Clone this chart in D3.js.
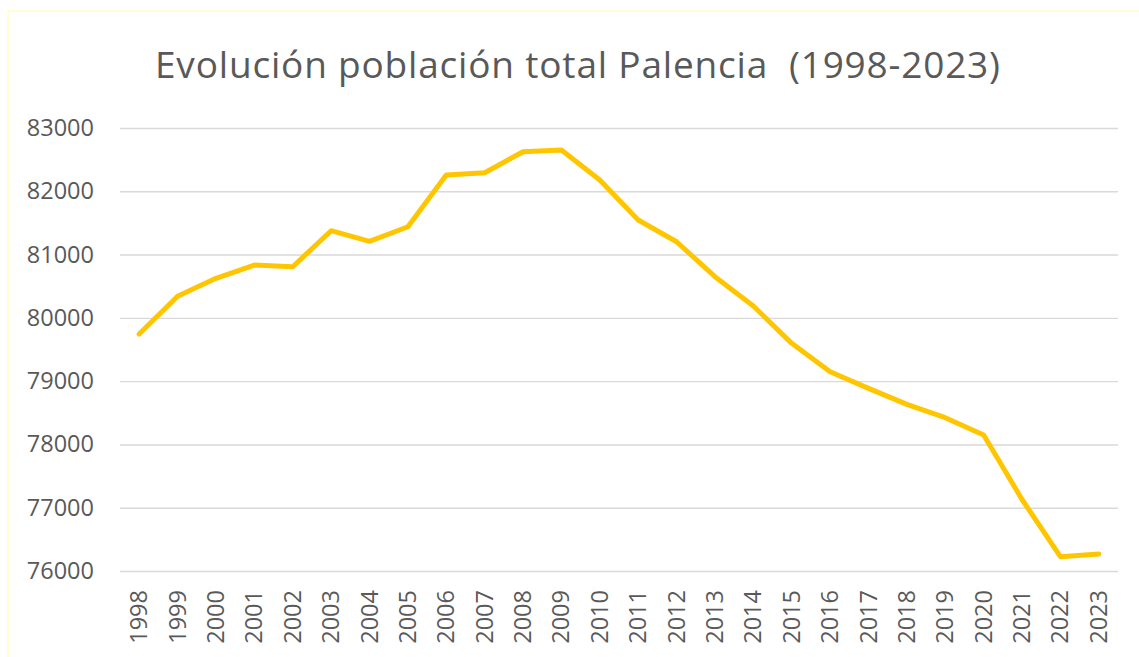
<!DOCTYPE html>
<html>
<head>
<meta charset="utf-8">
<script src="https://cdn.jsdelivr.net/npm/d3@7"></script>
<style>
  html, body { margin: 0; padding: 0; background: #fff; }
  svg { display: block; }
</style>
</head>
<body>
<svg id="chart" width="1139" height="657"></svg>
<script>
const years = ["1998","1999","2000","2001","2002","2003","2004","2005","2006","2007","2008","2009","2010","2011","2012","2013","2014","2015","2016","2017","2018","2019","2020","2021","2022","2023"];
const population = [79745,80340,80625,80835,80808,81377,81209,81440,82257,82293,82625,82652,82178,81546,81203,80650,80187,79597,79149,78886,78633,78423,78149,77130,76226,76269];
const yTicks = [76000,77000,78000,79000,80000,81000,82000,83000];
const title = "Evolución población total Palencia  (1998-2023)";

(function () {
const svg = d3.select("#chart");
const font = "'Open Sans', 'Noto Sans', sans-serif";
const textColor = "#595959";

// chart border
svg.append("rect").attr("x", 8).attr("y", 11).attr("width", 1160).attr("height", 700)
  .attr("fill", "#fff").attr("stroke", "#FFFFC2").attr("stroke-width", 1.5);

const pLeft = 120, pRight = 1118, pTop = 128, pBottom = 571;

const x = d3.scaleBand().domain(years).range([pLeft, pRight]).paddingInner(0).paddingOuter(0);
const y = d3.scaleLinear().domain([76000, 83000]).range([pBottom, pTop]);

// gridlines
const yAxis = d3.axisLeft(y).tickValues(yTicks).tickSize(-(pRight - pLeft)).tickPadding(26).tickFormat(d3.format("d"));
const gy = svg.append("g").attr("transform", `translate(${pLeft},0)`).call(yAxis);
gy.select(".domain").remove();
gy.selectAll(".tick line").attr("stroke", "#D9D9D9").attr("stroke-width", 1.4);
gy.selectAll(".tick text").attr("fill", textColor).attr("font-family", font).attr("font-size", 23.5);

// x axis labels
const xAxis = d3.axisBottom(x).tickSize(0).tickPadding(0);
const gx = svg.append("g").attr("transform", `translate(0,${pBottom})`).call(xAxis);
gx.select(".domain").remove();
gx.selectAll(".tick text")
  .attr("fill", textColor).attr("font-family", font).attr("font-size", 23.5)
  .attr("text-anchor", "end")
  .attr("dy", null)
  .attr("transform", "translate(-1,19) rotate(-90)")
  .attr("x", 0).attr("y", 0)
  .attr("dominant-baseline", "central");

// line
const line = d3.line().x((d, i) => x(years[i]) + x.bandwidth() / 2).y(d => y(d));
svg.append("path").datum(population)
  .attr("d", line).attr("fill", "none")
  .attr("stroke", "#FFC600").attr("stroke-width", 5)
  .attr("stroke-linejoin", "round").attr("stroke-linecap", "round");

// title
svg.append("text").attr("x", 577.5).attr("y", 78)
  .attr("text-anchor", "middle").attr("fill", textColor)
  .attr("font-family", font).attr("font-size", 37)
  .attr("textLength", 845).attr("lengthAdjust", "spacing")
  .style("white-space", "pre").attr("xml:space", "preserve")
  .text(title);
})();
</script>
</body>
</html>
